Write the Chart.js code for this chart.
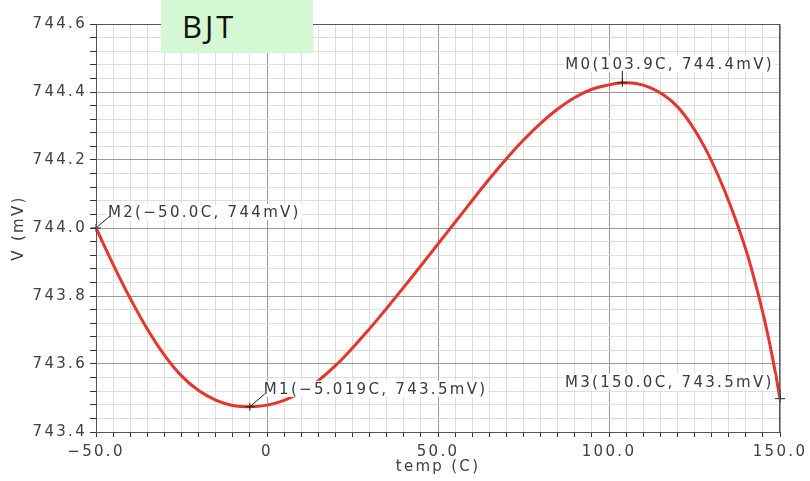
<!DOCTYPE html>
<html>
<head>
<meta charset="utf-8">
<script src="https://cdn.jsdelivr.net/npm/chart.js@4"></script>
<style>
  html, body { margin: 0; padding: 0; background: #fff; }
  #wrap { position: relative; width: 810px; height: 481px; }
  #title {
    position: absolute; left: 161px; top: 0; width: 152px; height: 53px;
    background: #d4f8d4; font-family: "Comic Sans MS", "Open Sans", sans-serif;
    font-size: 31px; line-height: 53px; color: #111; padding-left: 21px; box-sizing: border-box;
    letter-spacing: 3px;
  }
</style>
</head>
<body>
<div id="wrap">
  <canvas id="chart" width="810" height="481"></canvas>
  <div id="title">BJT</div>
</div>
<script>
// curve: temperature (C) vs V (mV)
const temps = [-50, -45, -40, -35, -30, -25, -20, -15, -10, -5, 0, 5, 10, 15, 20, 25, 30, 35, 40, 45,
               50, 55, 60, 65, 70, 75, 80, 85, 90, 95, 100, 104, 108, 112, 116, 120, 124, 128, 132, 136,
               140, 143, 145, 146, 147, 148, 149, 150];
const volts = [744.0, 743.893, 743.793, 743.703, 743.626, 743.565, 743.522, 743.494, 743.478, 743.474,
               743.479, 743.493, 743.517, 743.551, 743.595, 743.647, 743.704, 743.764, 743.826, 743.889,
               743.953, 744.017, 744.081, 744.144, 744.204, 744.259, 744.308, 744.35, 744.384, 744.408,
               744.421, 744.427, 744.425, 744.413, 744.391, 744.357, 744.305, 744.237, 744.153, 744.053,
               743.937, 743.83, 743.75, 743.706, 743.659, 743.609, 743.555, 743.498];

// major tick labels
const xTicks = [-50, 0, 50, 100, 150];
const yTicks = [743.4, 743.6, 743.8, 744.0, 744.2, 744.4, 744.6];

// markers
const markerTexts = ['M0(103.9C, 744.4mV)', 'M1(\u22125.019C, 743.5mV)', 'M2(\u221250.0C, 744mV)', 'M3(150.0C, 743.5mV)'];
const markerTemps = [103.9, -5.019, -50.0, 150.0];
const markerVolts = [744.427, 743.474, 744.0, 743.498];

// label placement relative to marker point: [dx to text left, dy to text middle, leader end dx, leader end dy]
const labelPlace = [[-57, -19, 0, -12], [14, -18, 15, -13], [12, -16, 14, -12], [-215, -17, 0, -10]];

const FONT = '"DejaVu Sans", Verdana, sans-serif';
const SPACING = '2.3px';

function isMajor(v, list) {
    return list.some(m => Math.abs(m - v) < 1e-6);
}

const textSpacing = {
    id: 'textSpacing',
    beforeDraw(chart) { chart.ctx.letterSpacing = SPACING; }
};

const markerPlugin = {
    id: 'markers',
    afterDatasetsDraw(chart) {
        const ctx = chart.ctx;
        const xs = chart.scales.x, ys = chart.scales.y;
        ctx.save();
        ctx.letterSpacing = SPACING;
        ctx.font = '15px ' + FONT;
        ctx.textBaseline = 'middle';
        ctx.textAlign = 'left';
        markerTexts.forEach((txt, i) => {
            const px = xs.getPixelForValue(markerTemps[i]);
            const py = ys.getPixelForValue(markerVolts[i]);
            const p = labelPlace[i];
            // label box
            const w = ctx.measureText(txt).width;
            ctx.fillStyle = '#fff';
            ctx.fillRect(px + p[0] - 1, py + p[1] - 8, w + 2, 16);
            ctx.fillStyle = '#3a3a3a';
            ctx.fillText(txt, px + p[0], py + p[1] + 1);
            // cross + leader
            ctx.strokeStyle = '#222';
            ctx.lineWidth = 1;
            ctx.beginPath();
            ctx.moveTo(px - 5, py); ctx.lineTo(px + 5, py);
            ctx.moveTo(px, py - 4); ctx.lineTo(px, py + 4);
            ctx.moveTo(px, py); ctx.lineTo(px + p[2], py + p[3]);
            ctx.stroke();
        });
        ctx.restore();
    },
    afterDraw(chart) {
        const a = chart.chartArea, ctx = chart.ctx;
        ctx.save();
        ctx.strokeStyle = '#555';
        ctx.lineWidth = 1;
        ctx.strokeRect(a.left + 0.5, a.top + 0.5, a.right - a.left - 1, a.bottom - a.top);
        ctx.restore();
    }
};

const ctx = document.getElementById('chart');
new Chart(ctx, {
    type: 'line',
    data: {
        datasets: [{
            data: temps.map((t, i) => ({ x: t, y: volts[i] })),
            borderColor: '#e8342a',
            borderWidth: 3,
            pointRadius: 0,
            tension: 0.4,
            fill: false
        }]
    },
    options: {
        responsive: false,
        animation: false,
        layout: { padding: { top: 24, right: 30, left: 0, bottom: 0 } },
        plugins: { legend: { display: false }, tooltip: { enabled: false } },
        scales: {
            x: {
                type: 'linear',
                min: -50, max: 150,
                afterFit(scale) { scale.height = 49; },
                ticks: {
                    stepSize: 5, autoSkip: false, maxRotation: 0, padding: 6,
                    color: '#404040', font: { family: FONT, size: 15 },
                    callback(v) {
                        if (!isMajor(v, xTicks)) return '';
                        if (v === 0) return '0';
                        return (v < 0 ? '\u2212' : '') + Math.abs(v).toFixed(1);
                    }
                },
                grid: {
                    color: c => isMajor(c.tick.value, xTicks) ? '#999' : '#dedede',
                    tickColor: '#333', tickLength: 5
                },
                border: { color: '#555' },
                title: {
                    display: true, text: 'temp (C)', color: '#404040',
                    font: { family: FONT, size: 15 }, padding: { top: 0, bottom: 5 }
                }
            },
            y: {
                min: 743.4, max: 744.6,
                afterFit(scale) { scale.width = 96; },
                ticks: {
                    stepSize: 0.04, autoSkip: false, padding: 3,
                    color: '#404040', font: { family: FONT, size: 15 },
                    callback(v) { return isMajor(v, yTicks) ? v.toFixed(1) : ''; }
                },
                grid: {
                    color: c => isMajor(c.tick.value, yTicks) ? '#999' : '#dedede',
                    tickColor: '#333', tickLength: 6
                },
                border: { color: '#555' },
                title: {
                    display: true, text: 'V (mV)', color: '#404040',
                    font: { family: FONT, size: 15 }, padding: { top: 10, bottom: 0 }
                }
            }
        }
    },
    plugins: [textSpacing, markerPlugin]
});
</script>
</body>
</html>
